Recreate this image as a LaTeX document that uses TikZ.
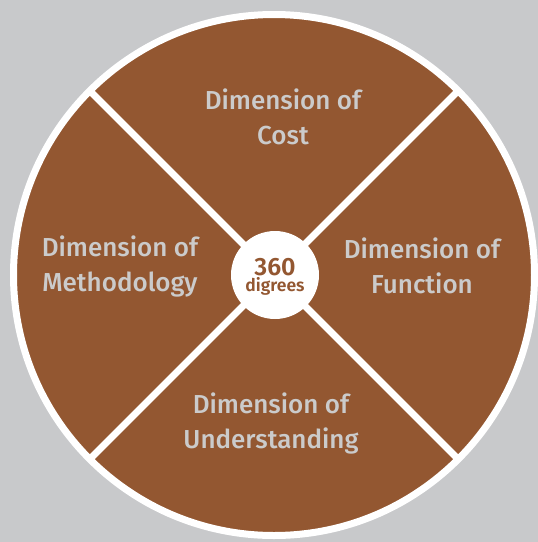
\documentclass[tikz,border=0pt]{standalone}
\usepackage{fontspec}
\setmainfont{Fira Sans}[UprightFont={* Medium},BoldFont={* SemiBold}]
\definecolor{bggray}{HTML}{C8C9CB}
\definecolor{rust}{HTML}{935731}
\definecolor{labelgray}{HTML}{CBCBCB}

\begin{document}
\begin{tikzpicture}[x=1pt,y=-1pt,
	dim label/.style={text=labelgray,align=center,font=\fontsize{26}{35}\selectfont},
	divider/.style={white,line width=7pt}]
	\fill[bggray] (0,0) rectangle (538,542);
	\node[circle,fill=rust,draw=white,line width=7pt,inner sep=0pt,outer sep=0pt,
		minimum size=521pt] (disk) at (274,275) {};
	\draw[divider] (disk.45) -- (disk.225);
	\draw[divider] (disk.135) -- (disk.315);
	\node[circle,fill=white,inner sep=0pt,minimum size=88pt] (hub) at (275,275) {};
	\node[text=rust,align=center,inner sep=0pt,font=\bfseries] (deg) at (275,277)
		{\fontsize{25}{25}\selectfont 360\\\fontsize{17.5}{17}\selectfont digrees};

	\node[dim label] (cost) at (283,117) {Dimension of\\Cost};
	\node[dim label] (method) at (120,266) {Dimension of\\Methodology};
	\node[dim label] (func) at (422,266) {Dimension of\\Function};
	\node[dim label] (under) at (271,423) {Dimension of\\Understanding};
\end{tikzpicture}
\end{document}
